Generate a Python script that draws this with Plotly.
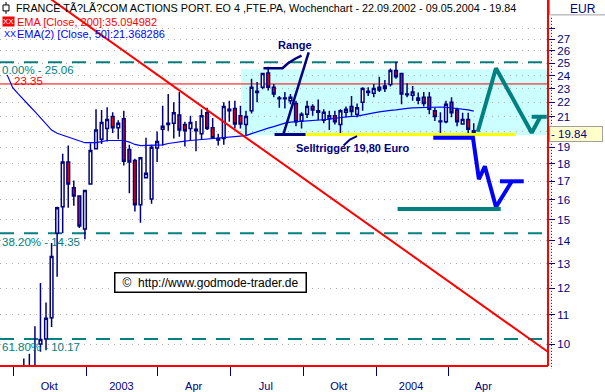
import math
import pandas as pd
import plotly.graph_objects as go

# ---------------- data ----------------
weeks = pd.date_range("2002-09-23", periods=85, freq="7D")

opens = [8.5, 8.0, 7.5, 8.6, 8.4, 9.0, 10.0, 10.17, 10.9, 14.35,
         15.65, 18.1, 16.65, 16.2, 14.55, 16.85, 18.9, 19.5, 20.2, 21.0,
         20.25, 20.85, 18.85, 18.2, 15.75, 17.2, 16.05, 18.95, 20.15, 20.55,
         20.55, 21.1, 20.45, 20.2, 20.05, 19.85, 21.25, 20.25, 19.45, 19.55,
         21.5, 21.55, 21.05, 20.45, 21.4, 22.7, 23.1, 24.2, 23.1, 22.25,
         22.25, 22.1, 21.9, 20.7, 21.15, 21.7, 21.3, 20.75, 20.85, 21.05,
         20.45, 21.3, 21.7, 21.15, 22.0, 22.7, 22.65, 23.1, 23.0, 23.3,
         24.4, 24.15, 22.55, 22.5, 22.15, 22.35, 22.35, 21.4, 20.65, 20.65,
         22.0, 21.45, 20.5, 20.8, 20.05]
highs = [9.0, 8.6, 9.2, 9.54, 9.69, 10.6, 12.2, 11.45, 13.9, 15.65,
         18.6, 19.1, 17.05, 16.25, 16.5, 19.25, 21.5, 21.45, 21.65, 21.3,
         20.75, 21.4, 19.15, 18.3, 18.4, 19.6, 19.15, 20.0, 21.75, 22.6,
         22.0, 22.75, 20.65, 21.05, 20.7, 21.5, 21.6, 20.9, 19.85, 22.0,
         22.1, 22.1, 21.75, 21.4, 23.75, 23.5, 24.2, 24.7, 23.35, 22.45,
         22.75, 22.6, 22.1, 21.3, 22.1, 21.85, 22.2, 21.5, 21.4, 21.4,
         21.5, 21.7, 22.45, 21.9, 23.1, 23.1, 23.35, 23.9, 23.65, 24.55,
         25.1, 24.2, 23.4, 23.2, 22.7, 22.75, 22.75, 21.6, 21.3, 22.1,
         22.35, 21.6, 21.25, 21.25, 20.55]
lows = [7.8, 6.94, 7.2, 8.0, 8.2, 8.6, 9.75, 9.8, 10.57, 12.45,
        14.35, 15.6, 15.7, 14.6, 14.07, 16.85, 18.9, 19.2, 19.35, 19.9,
        19.5, 17.9, 16.35, 15.4, 14.85, 17.2, 15.8, 18.1, 19.1, 20.05,
        19.55, 19.65, 19.05, 19.45, 18.75, 19.45, 20.1, 19.55, 19.1, 19.15,
        20.65, 20.2, 20.2, 19.75, 21.2, 22.0, 22.95, 22.85, 22.35, 21.6,
        21.55, 21.85, 20.35, 20.2, 20.9, 21.05, 20.75, 20.55, 20.1, 20.45,
        19.85, 20.95, 21.05, 20.95, 21.4, 22.45, 22.35, 22.75, 22.75, 23.15,
        23.75, 21.85, 22.35, 22.1, 21.85, 21.7, 21.15, 20.7, 19.85, 20.55,
        20.95, 20.35, 20.45, 19.85, 19.84]
closes = [8.0, 7.5, 8.6, 8.4, 9.0, 9.25, 10.15, 10.88, 13.3, 15.6,
          18.1, 16.85, 16.2, 14.7, 16.5, 18.8, 20.1, 20.6, 20.8, 20.25,
          20.55, 18.15, 18.1, 15.75, 18.35, 17.45, 19.0, 19.35, 20.35, 20.45,
          21.25, 20.1, 20.05, 20.6, 20.15, 21.05, 20.2, 19.6, 19.55, 21.7,
          21.4, 20.5, 20.5, 21.0, 23.1, 22.8, 24.15, 23.1, 22.6, 22.3,
          22.3, 22.35, 20.65, 21.15, 21.7, 21.45, 21.4, 21.3, 21.05, 20.65,
          21.4, 21.5, 21.35, 21.6, 23.0, 22.8, 23.0, 22.9, 23.2, 24.4,
          23.9, 22.6, 22.6, 22.75, 22.3, 21.9, 21.5, 21.0, 20.7, 21.85,
          21.25, 20.65, 20.8, 20.15, 19.84]
ema50 = [24.05, 23.07, 22.6, 22.2, 21.75, 21.33, 20.91, 20.5, 20.09, 19.88,
         19.76, 19.63, 19.51, 19.38, 19.28, 19.28, 19.28, 19.35, 19.42, 19.42,
         19.42, 19.42, 19.32, 19.17, 19.1, 19.1, 19.1, 19.1, 19.14, 19.23,
         19.29, 19.32, 19.38, 19.42, 19.45, 19.48, 19.51, 19.54, 19.57, 19.61,
         19.64, 19.67, 19.7, 19.73, 19.86, 19.99, 20.12, 20.22, 20.32, 20.45,
         20.55, 20.62, 20.65, 20.68, 20.7, 20.71, 20.72, 20.75, 20.81, 20.88,
         20.94, 20.98, 21.01, 21.03, 21.12, 21.19, 21.25, 21.32, 21.39, 21.42,
         21.46, 21.53, 21.56, 21.6, 21.62, 21.64, 21.66, 21.67, 21.66, 21.64,
         21.6, 21.56, 21.53, 21.46, 21.37]

fib_levels = [25.06, 14.35, 10.17]
fib_labels = ["0.00% - 25.06", "38.20% - 14.35", "61.80% - 10.17"]
resist_level = 23.35
last_close = 19.84

quarter_starts = ["2002-10-01", "2003-01-01", "2003-04-01", "2003-07-01",
                  "2003-10-01", "2004-01-01", "2004-04-01"]
quarter_mids = ["2002-11-15", "2003-02-14", "2003-05-16", "2003-08-15",
                "2003-11-15", "2004-02-14", "2004-05-15"]
quarter_labels = ["Okt", "2003", "Apr", "Jul", "Okt", "2004", "Apr"]
price_ticks = [10, 11, 12, 13, 14, 15, 16, 17, 18, 19, 20, 21, 22, 23, 24, 25, 26, 27, 28]
price_tick_text = [str(v) if v not in (20, 28) else "" for v in price_ticks]
price_min, price_max = 9.31, 30.7

# drawn analysis lines (date, price)
trend_x = ["2002-11-09", "2004-08-20"]
trend_y = [31.24, 9.477]
range_box_x = ["2003-07-15", "2004-12-31"]
range_box_y = [19.75, 24.5]
range_top_x = ["2003-08-12", "2003-09-05", "2003-09-12", "2003-09-21", "2003-09-29"]
range_top_y = [24.58, 24.58, 24.98, 25.35, 25.6]
range_leg_x = ["2003-09-06", "2003-10-08"]
range_leg_y = [19.80, 25.89]
range_bot_x = ["2003-08-26", "2003-10-04"]
range_bot_y = [19.80, 19.80]
sell_x = ["2003-10-04", "2004-06-25"]
sell_y = [19.80, 19.80]
sell_curve_x = ["2003-11-21", "2003-11-29", "2003-12-08"]
sell_curve_y = [19.1, 19.48, 19.7]
bear_x = ["2004-03-13", "2004-05-02", "2004-05-09 12:00", "2004-05-17", "2004-05-31", "2004-06-20",
          None, "2004-06-05", "2004-07-05"]
bear_y = [19.60, 19.60, 17.12, 17.85, 15.63, 17.0, None, 17.0, 17.0]
target_x = ["2004-01-28", "2004-06-06"]
target_y = [15.53, 15.53]
bull_x = ["2004-05-08", "2004-05-31", "2004-07-15", "2004-07-26", None, "2004-07-15", "2004-08-03"]
bull_y = [19.98, 24.58, 19.92, 20.98, None, 20.98, 20.98]

# ---------------- figure ----------------
NAVY = "#000080"
TEAL = "#008080"
FONT = "Liberation Sans, Arial, sans-serif"
PW, PH = 548, 369
LO, HI = math.log10(price_min), math.log10(price_max)


def px(x):
    return x / PW


def py(y):
    return 1 - y / PH


def yfrac(price):
    return (math.log10(price) - LO) / (HI - LO)


fig = go.Figure()

fig.add_trace(go.Candlestick(
    x=weeks, open=opens, high=highs, low=lows, close=closes,
    increasing=dict(line=dict(color=NAVY, width=1.5), fillcolor="white"),
    decreasing=dict(line=dict(color=NAVY, width=1.5), fillcolor="#FF0000"),
    hoverinfo="skip"))

fig.add_trace(go.Scatter(x=weeks, y=ema50, mode="lines", line=dict(color="#0000FF", width=1.2),
                         hoverinfo="skip"))
fig.add_trace(go.Scatter(x=trend_x, y=trend_y, mode="lines", line=dict(color="#FF0000", width=2),
                         hoverinfo="skip"))
fig.add_trace(go.Scatter(x=sell_x, y=sell_y, mode="lines", line=dict(color="#FFFF00", width=3),
                         hoverinfo="skip"))
for xs, ys, w in [(range_top_x, range_top_y, 2.5), (range_leg_x, range_leg_y, 2.5),
                  (range_bot_x, range_bot_y, 3), (sell_curve_x, sell_curve_y, 2)]:
    fig.add_trace(go.Scatter(x=xs, y=ys, mode="lines", line=dict(color=NAVY, width=w),
                             hoverinfo="skip"))
fig.add_trace(go.Scatter(x=bear_x, y=bear_y, mode="lines", line=dict(color="#0000FF", width=4),
                         hoverinfo="skip", connectgaps=False))
fig.add_trace(go.Scatter(x=target_x, y=target_y, mode="lines", line=dict(color=TEAL, width=4),
                         hoverinfo="skip"))
fig.add_trace(go.Scatter(x=bull_x, y=bull_y, mode="lines", line=dict(color=TEAL, width=4),
                         hoverinfo="skip", connectgaps=False))

ann = []


def text(t, x, y, color, size=11, xanchor="left", **kw):
    ann.append(dict(text=t, x=px(x), y=py(y), xref="paper", yref="paper", showarrow=False,
                    xanchor=xanchor, yanchor="middle", font=dict(family=FONT, size=size, color=color),
                    **kw))


text("FRANCE TÃ?LÃ?COM ACTIONS PORT. EO 4 ,FTE.PA, Wochenchart - 22.09.2002 - 09.05.2004 - 19.84",
     14, 8, "black", size=10.8)
text("XX", 2, 22, "white", size=8, bgcolor="#FF0000", borderpad=0)
text("EMA [Close, 200]:35.094982", 15, 22, "#FF0000")
text("XX", 2, 34.5, "#0000FF", size=9)
text("EMA(2) [Close, 50]:21.368286", 15, 34.5, "#0000FF")
text(fib_labels[0], 0, 71, TEAL, size=11.5)
text("23.35", 12, 82, "#FF0000", size=11.5)
text(fib_labels[1], 0, 244, TEAL, size=11.5)
text(fib_labels[2], 0, 350, TEAL, size=11.5)
text("<b>Range</b>", 295, 45, NAVY, size=11, xanchor="center")
text("<b>Selltrigger 19,80 Euro</b>", 352, 149.5, NAVY, size=11, xanchor="center")
text("©  http://www.godmode-trader.de", 210, 285, "black", size=12, xanchor="center",
     bordercolor="black", borderwidth=1.5, bgcolor="white", borderpad=2, width=186, align="center")
text("EUR", 583, 9, NAVY, size=12, xanchor="center")
ann.append(dict(text="- " + f"{last_close:.2f}", x=px(549), y=yfrac(last_close), xref="paper", yref="paper",
                showarrow=False, xanchor="left", yanchor="middle", align="left", width=50,
                font=dict(family=FONT, size=11.5, color=NAVY), bgcolor="#FFFFCC",
                bordercolor="#A0A0A0", borderwidth=1, borderpad=1))

shapes = [
    dict(type="rect", xref="x", yref="paper", x0=range_box_x[0], x1=range_box_x[1],
         y0=yfrac(range_box_y[0]), y1=yfrac(range_box_y[1]), layer="below",
         line=dict(width=0), fillcolor="#CCFFFF"),
    dict(type="line", xref="paper", yref="paper", x0=0, x1=1,
         y0=yfrac(resist_level), y1=yfrac(resist_level), layer="between",
         line=dict(color="#FF0000", width=1)),
]
for lvl in fib_levels:
    shapes.append(dict(type="line", xref="paper", yref="paper", x0=0, x1=1,
                       y0=yfrac(lvl), y1=yfrac(lvl), layer="between",
                       line=dict(color=TEAL, width=2, dash="14px,10px")))
shapes += [
    dict(type="line", xref="paper", yref="paper", x0=1, x1=1, y0=0, y1=1,
         line=dict(color="#FF0000", width=2)),
    dict(type="line", xref="paper", yref="paper", x0=0, x1=1, y0=0, y1=0,
         line=dict(color="#FF0000", width=2)),
    dict(type="line", xref="paper", yref="paper", x0=px(551.5), x1=px(551.5), y0=py(18), y1=py(372),
         line=dict(color=NAVY, width=1, dash="1px,2px")),
    dict(type="line", xref="paper", yref="paper", x0=px(550), x1=px(605), y0=py(15), y1=py(15),
         line=dict(color="#A0A0A0", width=1)),
    dict(type="line", xref="paper", yref="paper", x0=px(549.5), x1=px(549.5), y0=py(0), y1=py(15),
         line=dict(color="#A0A0A0", width=1)),
    dict(type="line", xref="paper", yref="paper", x0=px(6), x1=px(6), y0=py(2), y1=py(14),
         line=dict(color="black", width=1)),
    dict(type="rect", xref="paper", yref="paper", x0=px(3), x1=px(9), y0=py(5), y1=py(11),
         line=dict(color="black", width=1), fillcolor="white"),
]

fig.update_layout(
    width=605, height=392,
    margin=dict(l=0, r=57, t=0, b=23),
    paper_bgcolor="white", plot_bgcolor="white",
    showlegend=False, hovermode=False,
    annotations=ann, shapes=shapes,
    xaxis=dict(type="date", range=["2002-09-14", "2004-08-04 14:00"],
               rangeslider=dict(visible=False),
               tickmode="array", tickvals=quarter_mids, ticktext=quarter_labels,
               ticks="outside", ticklen=10, tickcolor="rgba(0,0,0,0)",
               tickfont=dict(family=FONT, size=11, color=NAVY),
               showgrid=False, zeroline=False, showline=False,
               minor=dict(tickmode="array", tickvals=quarter_starts, ticks="outside",
                          ticklen=9, tickwidth=1, tickcolor=NAVY, showgrid=False)),
    yaxis=dict(type="log", side="right",
               range=[LO, HI],
               tickmode="array", tickvals=price_ticks, ticktext=price_tick_text,
               ticks="outside", ticklen=6, tickcolor=NAVY,
               tickfont=dict(family=FONT, size=11.5, color=NAVY),
               showgrid=True, gridcolor="#B0B0B0", griddash="1px,5px", gridwidth=1,
               zeroline=False, showline=False),
)

fig.write_html("out.html",
               config={"displayModeBar": False},
               post_script="document.body.style.margin='0px';document.body.style.overflow='hidden';")
